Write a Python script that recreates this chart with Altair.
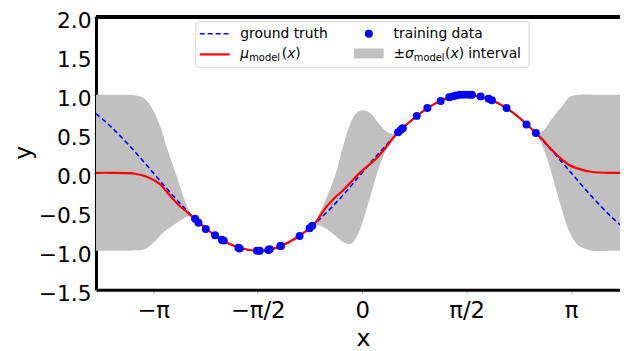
import math
import altair as alt
import pandas as pd

# ---------------- data ----------------
gt_x = [-4.0, -3.75, -3.5, -3.25, -3.0, -2.75, -2.5, -2.25, -2.0, -1.75, -1.5,
        -1.25, -1.0, -0.75, -0.5, -0.25, 0.0, 0.25, 0.5, 0.75, 1.0, 1.25, 1.5,
        1.75, 2.0, 2.25, 2.5, 2.75, 3.0, 3.25, 3.5, 3.75, 4.0]
gt_y = [0.76, 0.57, 0.35, 0.11, -0.14, -0.38, -0.60, -0.78, -0.91, -0.98, -1.00,
        -0.95, -0.84, -0.68, -0.48, -0.25, 0.00, 0.25, 0.48, 0.68, 0.84, 0.95, 1.00,
        0.98, 0.91, 0.78, 0.60, 0.38, 0.14, -0.11, -0.35, -0.57, -0.76]

train_x = [-2.51, -2.46, -2.35, -2.21, -2.11, -2.08, -1.86, -1.84, -1.58, -1.54,
           -1.41, -1.39, -1.23, -1.22, -0.94, -0.79, -0.75,
           0.54, 0.58, 0.61, 0.82, 0.98, 1.18, 1.31, 1.36, 1.41, 1.47, 1.53,
           1.60, 1.65, 1.78, 1.90, 1.95, 2.17, 2.47, 2.61]
train_y = [-0.59, -0.64, -0.72, -0.80, -0.86, -0.87, -0.96, -0.97, -1.00, -1.00,
           -0.99, -0.98, -0.94, -0.94, -0.81, -0.71, -0.68,
           0.52, 0.55, 0.57, 0.73, 0.83, 0.92, 0.97, 0.98, 0.99, 1.00, 1.00,
           1.00, 1.00, 0.98, 0.95, 0.93, 0.83, 0.62, 0.51]

grid_x = [-4.0, -3.75, -3.5, -3.4, -3.27, -3.14, -3.02, -2.95, -2.87, -2.75, -2.65, -2.57,
          -2.5, -2.25, -2.0, -1.75, -1.5, -1.25, -1.0, -0.85, -0.72,
          -0.55, -0.40, -0.28, -0.17, -0.07, 0.03, 0.13, 0.25, 0.37, 0.44, 0.52,
          0.75, 1.0, 1.25, 1.5, 1.75, 2.0, 2.25, 2.5, 2.62,
          2.72, 2.82, 2.92, 3.02, 3.11, 3.26, 3.46, 3.7, 4.0]
mean_y = [0.0, 0.0, -0.005, -0.015, -0.04, -0.09, -0.16, -0.23, -0.31, -0.42, -0.49, -0.55,
          -0.60, -0.78, -0.91, -0.98, -1.0, -0.95, -0.84, -0.75, -0.66,
          -0.45, -0.31, -0.22, -0.12, -0.03, 0.05, 0.12, 0.22, 0.34, 0.42, 0.50,
          0.68, 0.84, 0.95, 1.0, 0.98, 0.91, 0.78, 0.60, 0.50,
          0.42, 0.32, 0.235, 0.16, 0.10, 0.05, 0.01, 0.0, 0.0]
lower_y = [-1.0, -1.0, -1.0, -0.995, -0.98, -0.90, -0.79, -0.74, -0.69, -0.62, -0.57, -0.555,
           -0.60, -0.78, -0.91, -0.98, -1.0, -0.95, -0.84, -0.75, -0.67,
           -0.71, -0.81, -0.89, -0.91, -0.80, -0.57, -0.28, 0.06, 0.32, 0.44, 0.50,
           0.68, 0.84, 0.95, 1.0, 0.98, 0.91, 0.78, 0.60, 0.50,
           0.32, 0.07, -0.23, -0.52, -0.75, -0.94, -1.0, -1.0, -1.0]
upper_y = [1.0, 1.0, 1.0, 0.99, 0.95, 0.80, 0.56, 0.36, 0.16, -0.14, -0.39, -0.54,
           -0.60, -0.78, -0.91, -0.98, -1.0, -0.95, -0.84, -0.75, -0.64,
           -0.35, -0.02, 0.36, 0.65, 0.78, 0.80, 0.76, 0.63, 0.53, 0.50, 0.51,
           0.68, 0.84, 0.95, 1.0, 0.98, 0.91, 0.78, 0.60, 0.51,
           0.54, 0.655, 0.77, 0.87, 0.97, 1.0, 1.0, 1.0, 1.0]

xtick_vals = [-math.pi, -math.pi / 2, 0.0, math.pi / 2, math.pi]
xtick_labels = ["−π", "−π/2", "0", "π/2", "π"]
ytick_vals = [-1.5, -1.0, -0.5, 0.0, 0.5, 1.0, 1.5, 2.0]

# ---------------- tables ----------------
gt_df = pd.DataFrame({"x": gt_x, "y": gt_y})
train_df = pd.DataFrame({"x": train_x, "y": train_y})
model_df = pd.DataFrame({"x": grid_x, "mean": mean_y, "lo": lower_y, "hi": upper_y})

W, H = 530, 276
TOP = 7
XDOM = [-4.0, 3.875]
YDOM = [-1.5, 2.0]

label_expr = ""
for v, l in zip(xtick_vals, xtick_labels):
    label_expr += f"abs(datum.value - ({v})) < 0.01 ? '{l}' : "
label_expr += "''"

xscale = alt.Scale(domain=XDOM, nice=False, zero=False)
yscale = alt.Scale(domain=YDOM, nice=False, zero=False)

x_axis = alt.Axis(values=xtick_vals, labelExpr=label_expr, title="x",
                  tickSize=4, tickColor="#bbbbbb", labelPadding=6, labelOverlap=False,
                  titleX=270, titleY=56, titleBaseline="alphabetic")
y_axis = alt.Axis(values=ytick_vals, format=".1f", title="y",
                  tickSize=3, tickColor="#bbbbbb", labelPadding=2, labelOverlap=False,
                  labelBound=False, labelFlush=False, labelOffset=4, labelFontSize=22,
                  titleX=-66, titleY=137, titleAngle=270, titleBaseline="alphabetic")

INTERP = "catmull-rom"

band = alt.Chart(model_df).mark_area(color="#c0c0c0", opacity=1, interpolate=INTERP,
                                     clip=True).encode(
    x=alt.X("x:Q", scale=xscale, axis=x_axis),
    y=alt.Y("lo:Q", scale=yscale, axis=y_axis),
    y2="hi:Q",
)

truth = alt.Chart(gt_df).mark_line(color="#0000ff", strokeWidth=1.6, strokeDash=[5, 3],
                                   interpolate=INTERP, clip=True).encode(
    x=alt.X("x:Q", scale=xscale, axis=x_axis), y=alt.Y("y:Q", scale=yscale, axis=y_axis))

mean = alt.Chart(model_df).mark_line(color="#ff0000", strokeWidth=2.2,
                                     interpolate=INTERP, clip=True).encode(
    x=alt.X("x:Q", scale=xscale, axis=x_axis), y=alt.Y("mean:Q", scale=yscale, axis=y_axis))

pts = alt.Chart(train_df).mark_circle(color="#0000ff", size=65, opacity=1).encode(
    x=alt.X("x:Q", scale=xscale, axis=x_axis), y=alt.Y("y:Q", scale=yscale, axis=y_axis))

top_spine = alt.Chart(train_df).mark_rule(color="black", strokeWidth=3).encode(
    x=alt.value(0), x2=alt.value(W), y=alt.value(0))

# ---------------- legend (drawn by hand to allow subscripts) ----------------
FONT = "DejaVu Sans"
base = alt.Chart(pd.DataFrame({"a": [0]}))
OY = -2  # legend vertical shift relative to the plot top
legend_box = base.mark_rect(fill="white", stroke="#d0d0d0", strokeWidth=1, cornerRadius=3,
                            opacity=0.9).encode(
    x=alt.value(101), x2=alt.value(438), y=alt.value(7 + OY), y2=alt.value(53 + OY))
leg_dash = base.mark_rule(color="#0000ff", strokeWidth=1.6, strokeDash=[5, 3]).encode(
    x=alt.value(105), x2=alt.value(135), y=alt.value(19 + OY))
leg_red = base.mark_rule(color="#ff0000", strokeWidth=2.2).encode(
    x=alt.value(105), x2=alt.value(135), y=alt.value(40 + OY))
leg_dot = base.mark_circle(color="#0000ff", size=65, opacity=1).encode(
    x=alt.value(276), y=alt.value(19 + OY))
leg_rect = base.mark_rect(color="#c0c0c0").encode(
    x=alt.value(261), x2=alt.value(291), y=alt.value(34 + OY), y2=alt.value(44 + OY))


def txt(s, x, y, size=14, italic=False):
    return base.mark_text(align="left", baseline="middle", font=FONT, fontSize=size,
                          fontStyle="italic" if italic else "normal", color="black").encode(
        x=alt.value(x), y=alt.value(y + OY), text=alt.value(s))


legend_texts = [
    txt("ground truth", 146, 19),
    txt("training data", 301, 19),
    txt("μ", 146, 40, italic=True),
    txt("model", 155, 44, size=10),
    txt("(", 188, 40), txt("x", 193.5, 40, italic=True), txt(")", 201.5, 40),
    txt("±", 301, 40),
    txt("σ", 312.5, 40, italic=True),
    txt("model", 321.5, 44, size=10),
    txt("(", 353, 40), txt("x", 358.5, 40, italic=True), txt(")", 366.8, 40),
    txt("interval", 376.5, 40),
]

chart = alt.layer(band, truth, mean, pts, top_spine, legend_box, leg_dash, leg_red,
                  leg_dot, leg_rect, *legend_texts).properties(
    width=W, height=H,
    autosize=alt.AutoSizeParams(type="none"),
    padding={"left": 89, "top": TOP, "right": 0, "bottom": 60},
).configure_view(stroke=None).configure_axis(
    grid=False, labelFont=FONT, titleFont=FONT, labelFontSize=23, titleFontSize=24,
    titleFontWeight="normal", labelColor="black", titleColor="black",
    domainColor="black", domainWidth=3, labelOverlap=False,
)

chart.save("out.html", embed_options={"renderer": "svg", "actions": False})
